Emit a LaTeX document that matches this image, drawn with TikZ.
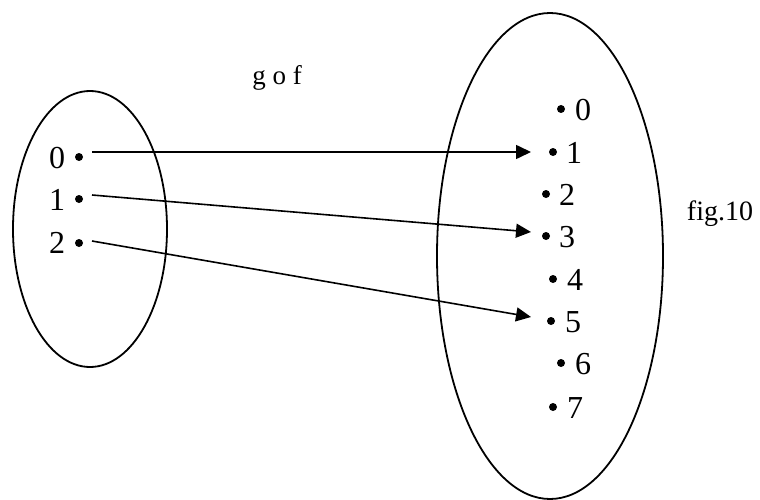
\documentclass[tikz,border=0pt]{standalone}
\usepackage{fontspec}
\setmainfont{Liberation Serif}
\usetikzlibrary{arrows.meta}
\tikzset{
  setline/.style={line width=1.8pt},
  dotnode/.style={circle,fill=black,inner sep=0pt,minimum size=8pt},
  lbl/.style={inner sep=0pt,font=\fontsize{32}{34}\selectfont},
  arr/.style={line width=1.6pt,-{Triangle[length=15pt,width=14pt]}},
}
\begin{document}
\begin{tikzpicture}[x=1pt,y=-1pt]
\useasboundingbox (0,0) rectangle (760,500);
\draw[setline] (90,229) ellipse [x radius=77, y radius=138];
\draw[setline] (550,256) ellipse [x radius=113, y radius=243];
% left set
\node[dotnode] (l0) at (79,157) {};
\node[dotnode] (l1) at (79,199) {};
\node[dotnode] (l2) at (79,243) {};
\node[lbl] (tl0) at (57,158) {0};
\node[lbl] (tl1) at (57,200) {1};
\node[lbl] (tl2) at (57,243) {2};
% right set
\node[dotnode] (r0) at (561,109) {};
\node[dotnode] (r1) at (553,152) {};
\node[dotnode] (r2) at (546,194) {};
\node[dotnode] (r3) at (546,236) {};
\node[dotnode] (r4) at (553,279) {};
\node[dotnode] (r5) at (551,321) {};
\node[dotnode] (r6) at (561,363) {};
\node[dotnode] (r7) at (553,407) {};
\node[lbl] (tr0) at (583,110) {0};
\node[lbl] (tr1) at (574,153) {1};
\node[lbl] (tr2) at (567,195) {2};
\node[lbl] (tr3) at (567,237) {3};
\node[lbl] (tr4) at (575,280) {4};
\node[lbl] (tr5) at (573,322) {5};
\node[lbl] (tr6) at (583,364) {6};
\node[lbl] (tr7) at (575,408) {7};
% arrows
\coordinate (a0) at (92,152);
\coordinate (a1) at (92,195);
\coordinate (a2) at (92,241);
\coordinate (b1) at (531,152);
\coordinate (b3) at (531,232);
\coordinate (b5) at (531,317);
\draw[arr] (a0) -- (b1);
\draw[arr] (a1) -- (b3);
\draw[arr] (a2) -- (b5);
% labels
\node[inner sep=0pt,anchor=base,font=\fontsize{27}{29}\selectfont] (gof) at (277,85) {g o f};
\node[inner sep=0pt,anchor=base,font=\fontsize{28}{30}\selectfont] (fig) at (720,220) {fig.10};
\end{tikzpicture}
\end{document}
